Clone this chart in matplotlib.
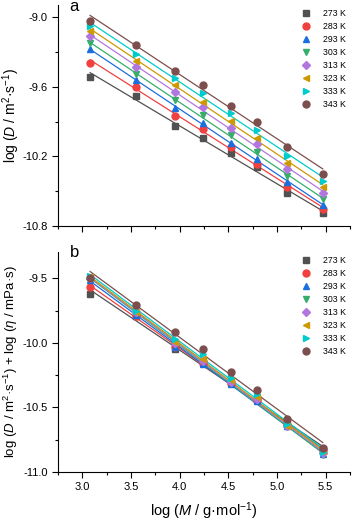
import numpy as np
import matplotlib
matplotlib.use("Agg")
import matplotlib.pyplot as plt
from matplotlib.ticker import MultipleLocator

plt.rcParams['font.family'] = ['Liberation Sans', 'DejaVu Sans']
plt.rcParams['mathtext.fontset'] = 'custom'
plt.rcParams['mathtext.rm'] = 'Liberation Sans'
plt.rcParams['mathtext.it'] = 'Liberation Sans:italic'
plt.rcParams['mathtext.default'] = 'regular'

logM = [3.08, 3.55, 3.95, 4.24, 4.53, 4.79, 5.10, 5.47]
temps = ['273 K', '283 K', '293 K', '303 K', '313 K', '323 K', '333 K', '343 K']
colors = ['#515151', '#F14040', '#1A6FDF', '#37AD6B', '#B177DE', '#CC9900', '#00CBCC', '#7D4E4E']
markers = ['s', 'o', '^', 'v', 'D', '<', '>', 'o']

logD = [
    [-9.513, -9.679, -9.935, -10.045, -10.174, -10.29, -10.519, -10.692],
    [-9.392, -9.599, -9.852, -9.964, -10.117, -10.261, -10.462, -10.655],
    [-9.276, -9.541, -9.780, -9.915, -10.082, -10.218, -10.419, -10.620],
    [-9.225, -9.490, -9.714, -9.843, -10.016, -10.166, -10.370, -10.571],
    [-9.161, -9.432, -9.647, -9.772, -9.958, -10.097, -10.312, -10.514],
    [-9.116, -9.375, -9.584, -9.728, -9.895, -10.040, -10.260, -10.462],
    [-9.072, -9.317, -9.526, -9.656, -9.829, -9.973, -10.195, -10.410],
    [-9.029, -9.239, -9.461, -9.584, -9.763, -9.901, -10.117, -10.355],
]

logDeta = [
    [-9.625, -9.795, -10.048, -10.160, -10.310, -10.440, -10.630, -10.820],
    [-9.570, -9.790, -10.035, -10.160, -10.310, -10.445, -10.635, -10.830],
    [-9.515, -9.785, -10.030, -10.165, -10.320, -10.450, -10.645, -10.860],
    [-9.500, -9.770, -10.010, -10.150, -10.310, -10.440, -10.655, -10.865],
    [-9.495, -9.765, -10.000, -10.140, -10.300, -10.435, -10.645, -10.850],
    [-9.490, -9.760, -9.990, -10.125, -10.290, -10.420, -10.645, -10.840],
    [-9.485, -9.755, -9.970, -10.085, -10.270, -10.400, -10.630, -10.845],
    [-9.495, -9.705, -9.920, -10.047, -10.227, -10.364, -10.590, -10.815],
]

W, H = 354, 521
fig = plt.figure(figsize=(W / 100, H / 100), dpi=100)
ax1 = fig.add_axes([58 / W, 1 - 226 / H, (350 - 58) / W, (226 - 5) / H])
ax2 = fig.add_axes([58 / W, 1 - 472 / H, (350 - 58) / W, (472 - 252) / H])

x = np.array(logM)
xx = np.array([x.min(), x.max()])


def draw(ax, data):
    for i, (lab, c, m) in enumerate(zip(temps, colors, markers)):
        y = np.array(data[i])
        k, b = np.polyfit(x, y, 1)
        ax.plot(xx, k * xx + b, color=c, lw=0.9, zorder=2)
        ax.plot(x, y, ls='none', marker=m, color=c, ms=5 if m != 'D' else 4.3,
                mec=c, label=lab, zorder=3)
    for s in ['top', 'right']:
        ax.spines[s].set_visible(False)
    for s in ['left', 'bottom']:
        ax.spines[s].set_linewidth(0.8)
    ax.set_xlim(2.75, 5.75)
    ax.xaxis.set_major_locator(MultipleLocator(0.5))
    ax.xaxis.set_minor_locator(MultipleLocator(0.25))
    ax.tick_params(which='both', direction='out', labelsize=8, width=0.8)
    ax.tick_params(which='major', length=4)
    ax.tick_params(which='minor', length=2.5)
    ax.legend(loc='upper right', frameon=False, fontsize=6.3, handletextpad=1.4,
              labelspacing=0.45, borderaxespad=0.1, handlelength=1.0,
              bbox_to_anchor=(1.0, 1.0))


draw(ax1, logD)
ax1.set_ylim(-10.8, -8.894)
ax1.set_yticks([-10.8, -10.2, -9.6, -9.0])
ax1.set_yticklabels(['-10.8', '-10.2', '-9.6', '-9.0'])
ax1.yaxis.set_minor_locator(MultipleLocator(0.3))
ax1.tick_params(axis='x', labelbottom=False)
ax1.set_ylabel(r'log ($\mathit{D}$ / m$^{2}$·s$^{-1}$)', fontsize=10)
ax1.yaxis.set_label_coords((22 - 58) / 292, 0.5)
ax1.text(0.04, 1.025, 'a', transform=ax1.transAxes, fontsize=12, va='top', ha='left')

draw(ax2, logDeta)
ax2.set_ylim(-11.0, -9.297)
ax2.set_yticks([-11.0, -10.5, -10.0, -9.5])
ax2.set_yticklabels(['-11.0', '-10.5', '-10.0', '-9.5'])
ax2.yaxis.set_minor_locator(MultipleLocator(0.25))
ax2.set_ylabel(r'log ($\mathit{D}$ / m$^{2}$·s$^{-1}$) + log ($\mathit{\eta}$ / mPa·s)',
               fontsize=9.5)
ax2.yaxis.set_label_coords((20 - 58) / 292, 0.5)
ax2.set_xlabel(r'log ($\mathit{M}$ / g·mol$^{-1}$)', fontsize=10.5, labelpad=6)
ax2.text(0.04, 1.03, 'b', transform=ax2.transAxes, fontsize=12, va='top', ha='left')

fig.savefig('out.png', dpi=100)
